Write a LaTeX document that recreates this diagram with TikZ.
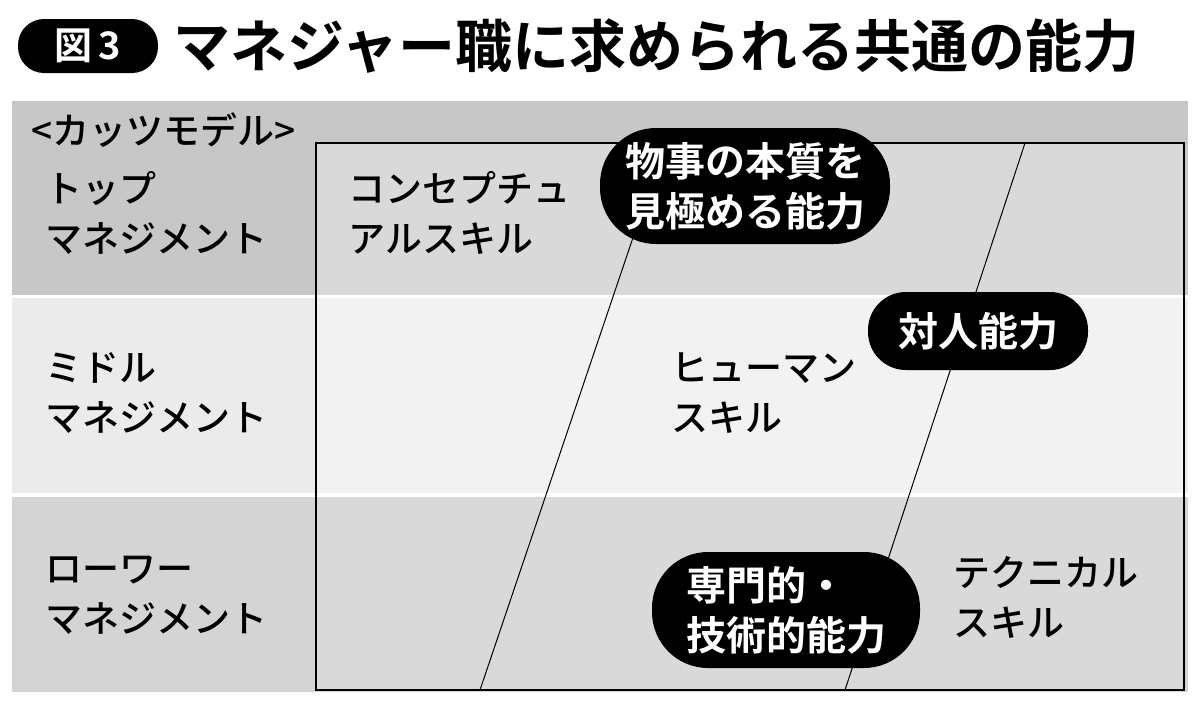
\documentclass[tikz,border=0pt]{standalone}
\usepackage{fontspec}
\setmainfont{Noto Sans CJK JP Medium}
\newfontfamily\jpb{Noto Sans CJK JP Bold}
\begin{document}
\begin{tikzpicture}[x=1pt,y=-1pt,
  pill/.style={fill=black,text=white,font=\jpb\fontsize{40}{48}\selectfont,inner sep=0pt},
  lbl/.style={anchor=west,align=left,font=\fontsize{37}{50}\selectfont,text=black}]
\useasboundingbox (0,0) rectangle (1200,702);
\fill[white] (0,0) rectangle (1200,702);
% bands
\fill[black!22] (12,101) rectangle (1188,295);
\fill[black!8] (12,298) rectangle (1188,493);
\fill[black!17] (12,497) rectangle (1188,692);
\fill[black!15] (316,143) rectangle (1184,295);
\fill[black!5] (316,298) rectangle (1184,493);
\fill[black!15] (316,497) rectangle (1184,690);
\draw[line width=1.2pt] (316,143) rectangle (1184,690);
\coordinate (a1) at (480,690); \coordinate (a2) at (665,143);
\coordinate (b1) at (845,690); \coordinate (b2) at (1025,143);
\draw[line width=1pt] (a1) -- (a2);
\draw[line width=1pt] (b1) -- (b2);
% title
\node[fill=black,text=white,rounded corners=26pt,minimum width=140pt,minimum height=54pt,font=\jpb\fontsize{38}{40}\selectfont] (tag) at (88,46) {図\,3};
\node[anchor=west,font=\jpb\fontsize{57}{62}\selectfont] (title) at (170,46) {マネジャー職に求められる共通の能力};
% labels
\node[lbl] (k) at (28,130) {<カッツモデル>};
\node[lbl] (top) at (42,213) {トップ\\マネジメント};
\node[lbl] (mid) at (42,393) {ミドル\\マネジメント};
\node[lbl] (low) at (42,595) {ローワー\\マネジメント};
\node[lbl] (cs) at (345,213) {コンセプチュ\\アルスキル};
\node[lbl] (hs) at (668,393) {ヒューマン\\スキル};
\node[lbl] (ts) at (950,597) {テクニカル\\スキル};
% pills
\node[pill,minimum width=290pt,minimum height=116pt,rounded corners=56pt,align=center,font=\jpb\fontsize{40}{50}\selectfont] (p1) at (745,186) {物事の本質を\\見極める能力};
\node[pill,minimum width=220pt,minimum height=78pt,rounded corners=38pt] (p2) at (978,331) {対人能力};
\node[pill,minimum width=268pt,minimum height=116pt,rounded corners=56pt,align=left,font=\jpb\fontsize{40}{50}\selectfont] (p3) at (786,610) {専門的・\\技術的能力};
\end{tikzpicture}
\end{document}
